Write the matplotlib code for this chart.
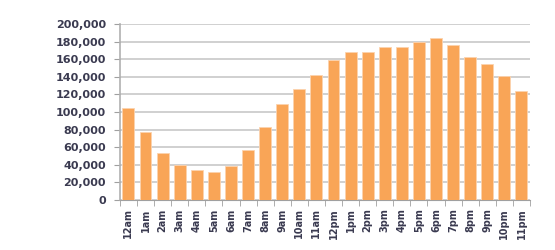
import matplotlib
matplotlib.use("Agg")
import matplotlib.pyplot as plt
from matplotlib.ticker import FuncFormatter

hours = ["12am", "1am", "2am", "3am", "4am", "5am", "6am", "7am", "8am", "9am",
         "10am", "11am", "12pm", "1pm", "2pm", "3pm", "4pm", "5pm", "6pm", "7pm",
         "8pm", "9pm", "10pm", "11pm"]
counts = [104000, 77000, 53000, 40000, 34000, 31500, 38500, 57000, 83000, 109000,
          126000, 142000, 159000, 168500, 168500, 173500, 173500, 179500, 184000,
          176000, 162500, 154000, 141000, 124000]
y_ticks = [0, 20000, 40000, 60000, 80000, 100000, 120000, 140000, 160000, 180000, 200000]

fig = plt.figure(figsize=(5.55, 2.5), dpi=100)
ax = fig.add_axes([0.216, 0.2, 0.739, 0.704])

x = range(len(hours))
ax.bar(x, counts, width=0.7, color="#F9A557", edgecolor="#FCD3AE", linewidth=0.6, zorder=3)

ax.set_ylim(0, 200000)
ax.set_xlim(-0.5, len(hours) - 0.5)
ax.set_yticks(y_ticks)
ax.yaxis.set_major_formatter(FuncFormatter(lambda v, p: f"{int(v):,}"))
ax.grid(axis="y", color="#C8C8C8", linewidth=1.2, zorder=0)

ax.set_xticks(x)
ax.set_xticklabels(hours, rotation=90)
ax.set_xticks([i - 0.5 for i in range(len(hours) + 1)], minor=True)
ax.tick_params(axis="x", which="major", length=0, pad=6)
ax.tick_params(axis="x", which="minor", length=4, color="#A0A0A0")
ax.tick_params(axis="y", length=4, color="#A0A0A0", direction="out", pad=6)

for lbl in ax.get_yticklabels():
    lbl.set_fontsize(8)
    lbl.set_fontweight("bold")
    lbl.set_color("#3A3A50")
for lbl in ax.get_xticklabels():
    lbl.set_fontsize(7)
    lbl.set_fontweight("bold")
    lbl.set_color("#3A3A50")

for side in ["top", "right"]:
    ax.spines[side].set_visible(False)
ax.spines["left"].set_color("#B0B0B0")
ax.spines["bottom"].set_color("#A0A0A0")
ax.spines["left"].set_linewidth(1.2)

fig.savefig("out.png", dpi=100)
